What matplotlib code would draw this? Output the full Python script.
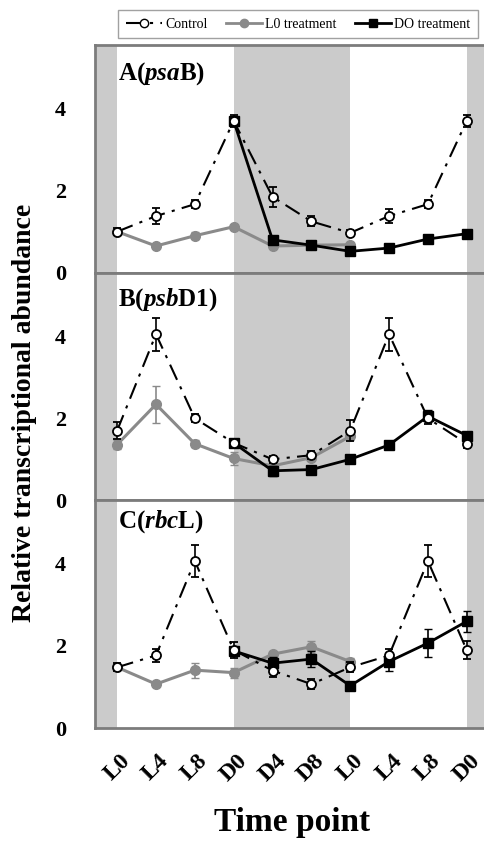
import matplotlib
matplotlib.use("Agg")
import matplotlib.pyplot as plt
from matplotlib.lines import Line2D
import numpy as np

plt.rcParams['font.family'] = ['Liberation Serif', 'DejaVu Serif']
plt.rcParams['mathtext.fontset'] = 'custom'
plt.rcParams['mathtext.rm'] = 'Liberation Serif'
plt.rcParams['mathtext.bf'] = 'Liberation Serif:bold'
plt.rcParams['mathtext.it'] = 'Liberation Serif:italic'
plt.rcParams['mathtext.bfit'] = 'Liberation Serif:bold:italic'

# ---- data ----
x_labels = ['L0', 'L4', 'L8', 'D0', 'D4', 'D8', 'L0', 'L4', 'L8', 'D0']
panel_titles = [r'$\mathbf{A(}\mathbfit{psa}\mathbf{B)}$',
                r'$\mathbf{B(}\mathbfit{psb}\mathbf{D1)}$',
                r'$\mathbf{C(}\mathbfit{rbc}\mathbf{L)}$']

ctrl_A = [1.0, 1.38, 1.67, 3.7, 1.85, 1.25, 0.97, 1.38, 1.67, 3.7]
ctrl_A_err = [0.08, 0.2, 0.1, 0.15, 0.25, 0.12, 0.08, 0.18, 0.1, 0.15]
l0_A = [1.0, 0.65, 0.9, 1.12, 0.65, 0.67, 0.68]
l0_A_err = [0.05, 0.05, 0.08, 0.05, 0.04, 0.04, 0.04]
d0_A = [3.7, 0.8, 0.67, 0.52, 0.6, 0.82, 0.95]
d0_A_err = [0.1, 0.08, 0.06, 0.05, 0.05, 0.07, 0.05]

ctrl_B = [1.7, 4.05, 2.0, 1.4, 1.0, 1.1, 1.7, 4.05, 2.0, 1.38]
ctrl_B_err = [0.2, 0.4, 0.1, 0.1, 0.08, 0.1, 0.25, 0.4, 0.15, 0.1]
l0_B = [1.36, 2.34, 1.38, 1.02, 0.84, 1.04, 1.56]
l0_B_err = [0.12, 0.45, 0.08, 0.15, 0.05, 0.05, 0.08]
d0_B = [1.4, 0.72, 0.75, 1.0, 1.35, 2.05, 1.58]
d0_B_err = [0.08, 0.12, 0.06, 0.05, 0.08, 0.15, 0.06]

ctrl_C = [1.48, 1.77, 4.07, 1.9, 1.4, 1.07, 1.48, 1.77, 4.07, 1.9]
ctrl_C_err = [0.1, 0.15, 0.4, 0.2, 0.15, 0.12, 0.12, 0.15, 0.4, 0.22]
l0_C = [1.48, 1.07, 1.41, 1.35, 1.8, 1.98, 1.62]
l0_C_err = [0.05, 0.03, 0.18, 0.12, 0.05, 0.15, 0.08]
d0_C = [1.88, 1.58, 1.68, 1.03, 1.62, 2.07, 2.6]
d0_C_err = [0.1, 0.15, 0.2, 0.05, 0.22, 0.35, 0.25]

panels = [
    (ctrl_A, ctrl_A_err, l0_A, l0_A_err, d0_A, d0_A_err),
    (ctrl_B, ctrl_B_err, l0_B, l0_B_err, d0_B, d0_B_err),
    (ctrl_C, ctrl_C_err, l0_C, l0_C_err, d0_C, d0_C_err),
]

W, H = 485, 843
fig = plt.figure(figsize=(W / 100, H / 100), dpi=100)

left = 95 / W
right = 1.0
top_px = 45
bot_px = 728
ph = (bot_px - top_px) / 3

GRAY_BG = '#cbcbcb'
SPINE = '#7c7c7c'
LGRAY = '#8a8a8a'
ctrl_ls = (0, (8, 3.5, 1.5, 3.5))

x_all = np.arange(len(x_labels))
xlim = (-0.57, 9.47)
title_offsets = [0.935, 0.94, 0.965]

axes = []
for i, (c, ce, g, ge, d, de) in enumerate(panels):
    y0 = 1 - (top_px + (i + 1) * ph) / H
    ax = fig.add_axes([left, y0, right - left, ph / H])
    axes.append(ax)
    ax.set_xlim(*xlim)
    ax.set_ylim(0, 5.55)
    ax.axvspan(xlim[0], x_all[0], color=GRAY_BG, lw=0, zorder=0)
    ax.axvspan(x_all[3], x_all[6], color=GRAY_BG, lw=0, zorder=0)
    ax.axvspan(x_all[9], xlim[1], color=GRAY_BG, lw=0, zorder=0)

    xg = x_all[:len(g)]
    xd = x_all[3:3 + len(d)]
    ax.errorbar(xg, g, yerr=ge, color=LGRAY, lw=2.2, marker='o', ms=7,
                mfc=LGRAY, mec=LGRAY, ecolor=LGRAY, elinewidth=1.2,
                capsize=3, zorder=3)
    ax.errorbar(xd, d, yerr=de, color='black', lw=2.0, marker='s', ms=6.5,
                mfc='black', mec='black', ecolor='black', elinewidth=1.2,
                capsize=3, zorder=4)
    ax.errorbar(x_all, c, yerr=ce, color='black', lw=1.5, ls=ctrl_ls,
                marker='o', ms=6.5, mfc='white', mec='black', mew=1.3,
                ecolor='black', elinewidth=1.2, capsize=3, zorder=5)

    ax.set_yticks([0, 2, 4])
    ax.set_yticklabels(['0', '2', '4'], fontsize=16, fontweight='bold')
    ax.tick_params(axis='y', length=0, pad=21)
    ax.set_xticks(x_all)
    if i == 2:
        ax.set_xticklabels(x_labels, rotation=45, ha='center', va='top',
                           fontsize=17, fontweight='bold')
        ax.tick_params(axis='x', length=0, pad=16)
    else:
        ax.set_xticklabels([])
        ax.tick_params(axis='x', length=0)
    for s in ['left', 'top', 'bottom']:
        ax.spines[s].set_color(SPINE)
        ax.spines[s].set_linewidth(2)
    ax.spines['right'].set_visible(False)
    ax.text(0.06, title_offsets[i], panel_titles[i], transform=ax.transAxes,
            fontsize=18, ha='left', va='top', zorder=6)

fig.text(25 / W, 1 - 413 / H, 'Relative transcriptional abundance',
         rotation=90, ha='center', va='center', fontsize=20, fontweight='bold')
fig.text(292 / W, 1 - 823 / H, 'Time point', ha='center', va='center',
         fontsize=24, fontweight='bold')

handles = [
    Line2D([], [], color='black', lw=1.5, ls=ctrl_ls, marker='o', ms=6,
           mfc='white', mec='black'),
    Line2D([], [], color=LGRAY, lw=2, marker='o', ms=6, mfc=LGRAY, mec=LGRAY),
    Line2D([], [], color='black', lw=2, marker='s', ms=6, mfc='black',
           mec='black'),
]
leg = fig.legend(handles, ['Control', 'L0 treatment', 'DO treatment'],
                 loc='center', bbox_to_anchor=(298 / W, 1 - 24 / H), ncol=3,
                 fontsize=10, frameon=True, fancybox=False, edgecolor='#8a8a8a',
                 handlelength=2.6, handletextpad=0.25, columnspacing=1.3,
                 borderpad=0.55, numpoints=1)
leg.get_frame().set_linewidth(1.0)

fig.savefig('out.png', dpi=100)
